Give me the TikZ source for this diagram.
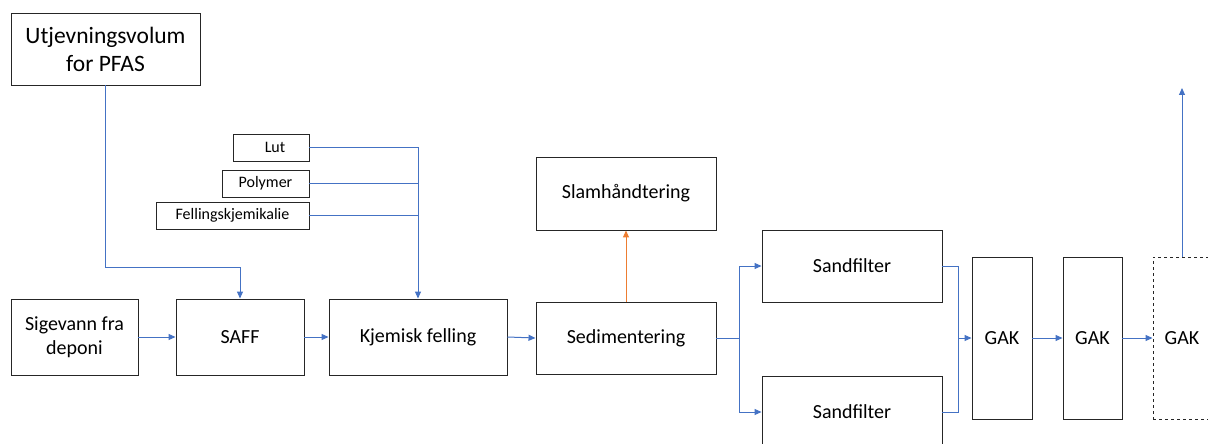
\documentclass[tikz,border=0pt]{standalone}
\usepackage{fontspec}
\setmainfont{Carlito}
\usetikzlibrary{arrows.meta}
\definecolor{flowblue}{HTML}{4472C4}
\definecolor{floworange}{HTML}{ED7D31}
\tikzset{
  box/.style={draw=black!85, line width=0.9pt, inner sep=0pt, align=center, font=\fontsize{20}{24}\selectfont},
  smallbox/.style={box, font=\fontsize{16}{19}\selectfont},
  arr/.style={draw=flowblue, line width=1pt, -{Triangle[length=7pt,width=6pt]}},
  ln/.style={draw=flowblue, line width=1pt},
  oarr/.style={draw=floworange, line width=1pt, -{Triangle[length=7pt,width=6pt]}}
}
\begin{document}
\begin{tikzpicture}[x=1pt,y=-1pt]
\useasboundingbox (0,0) rectangle (1208,444);
\clip (0,0) rectangle (1208,444);
\node[box, minimum width=189pt, minimum height=72pt, font=\fontsize{23.5}{28}\selectfont] (utj) at (105.5,49) {Utjevningsvolum\\for PFAS};
\node[smallbox, minimum width=76pt, minimum height=27pt] (lut) at (271,147.5) {\hspace*{8pt}Lut};
\node[smallbox, minimum width=87pt, minimum height=27pt] (pol) at (265.5,183.5) {Polymer};
\node[smallbox, minimum width=153pt, minimum height=27pt] (fel) at (232.5,215.5) {Fellingskjemikalie};
\node[box, minimum width=127pt, minimum height=76pt] (sig) at (74.5,337) {Sigevann fra\\deponi};
\node[box, minimum width=128pt, minimum height=76pt] (saff) at (240,337) {SAFF};
\node[box, minimum width=178pt, minimum height=76pt] (kje) at (418,337) {Kjemisk felling};
\node[box, minimum width=180pt, minimum height=72pt] (sed) at (626,338) {Sedimentering};
\node[box, minimum width=180pt, minimum height=73pt] (slam) at (626,193.5) {Slamhåndtering};
\node[box, minimum width=180pt, minimum height=72pt] (sa1) at (852,266) {Sandfilter};
\node[box, minimum width=180pt, minimum height=72pt] (sa2) at (852,412) {Sandfilter};
\node[box, minimum width=60pt, minimum height=162pt] (g1) at (1002,338) {GAK};
\node[box, minimum width=59pt, minimum height=162pt] (g2) at (1092.5,338) {GAK};
\node[box, dashed, minimum width=58pt, minimum height=162pt] (g3) at (1182,338) {GAK};
\coordinate (j1) at (240,267);
\coordinate (sp) at (739,338);
\coordinate (mg) at (958,338);
\coordinate (out) at (1182,88);
\draw[arr] (utj.south) |- (j1) -- (saff.north);
\draw[arr] (lut.east) -| (kje.north);
\draw[ln] (pol.east) -- (pol.east -| kje.north);
\draw[ln] (fel.east) -- (fel.east -| kje.north);
\draw[arr] (sig.east) -- (saff.west);
\draw[arr] (saff.east) -- (kje.west);
\draw[arr] (kje.east) -- (sed.west);
\draw[oarr] (sed.north) -- (slam.south);
\draw[ln] (sed.east) -- (sp);
\draw[arr] (sp) |- (sa1.west);
\draw[arr] (sp) |- (sa2.west);
\draw[ln] (sa1.east) -| (mg);
\draw[ln] (sa2.east) -| (mg);
\draw[arr] (mg) -- (g1.west);
\draw[arr] (g1.east) -- (g2.west);
\draw[arr] (g2.east) -- (g3.west);
\draw[arr] (g3.north) -- (out);
\end{tikzpicture}
\end{document}
